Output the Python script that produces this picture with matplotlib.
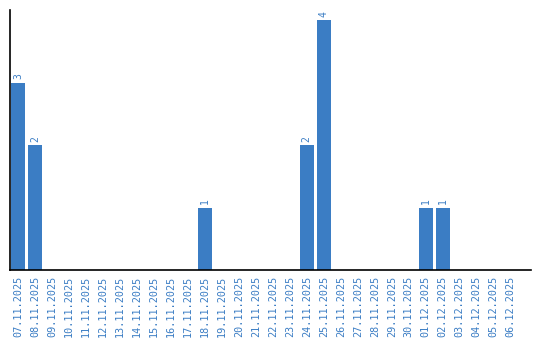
import matplotlib
matplotlib.use("Agg")
import matplotlib.pyplot as plt
import numpy as np

days = [f"{d:02d}.11.2025" for d in range(7, 31)] + [f"{d:02d}.12.2025" for d in range(1, 7)]
counts = [3, 2, 0, 0, 0, 0, 0, 0, 0, 0, 0, 1, 0, 0, 0, 0, 0, 2, 4, 0, 0, 0, 0, 0, 1, 1, 0, 0, 0, 0]

blue = "#3b7dc4"

fig = plt.figure(figsize=(5.4, 3.4), dpi=100)
ax = fig.add_axes([10 / 540, 70 / 340, 521 / 540, 260 / 340])

x = np.arange(len(days))
ax.bar(x, counts, width=0.82, color=blue)
for xi, c in zip(x, counts):
    if c:
        ax.text(xi, c + 0.05, str(c), rotation=90, ha="center", va="bottom",
                color=blue, fontsize=7, family="DejaVu Sans Mono")

ax.set_xlim(-0.47, 30.2)
ax.set_ylim(0, 4.16)
ax.set_xticks(x)
ax.set_xticklabels(days, rotation=90, color=blue, fontsize=7.3, family="DejaVu Sans Mono")
ax.tick_params(axis="x", length=0, pad=4)
ax.set_yticks([])
for side in ("top", "right"):
    ax.spines[side].set_visible(False)
ax.spines["left"].set_linewidth(1.2)
ax.spines["bottom"].set_linewidth(1.2)

fig.savefig("out.png", dpi=100)
